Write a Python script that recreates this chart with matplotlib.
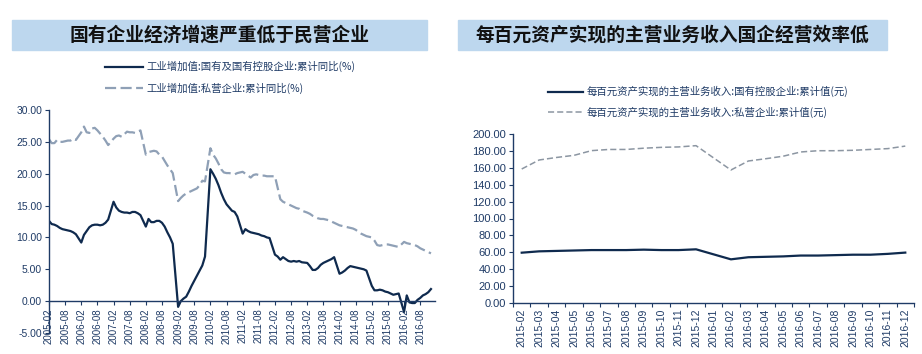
import matplotlib
matplotlib.use("Agg")
import matplotlib.pyplot as plt
from matplotlib.patches import Rectangle
import numpy as np

plt.rcParams['font.family'] = ['Noto Sans CJK SC', 'DejaVu Sans']

# ---- left chart: industrial value added, cumulative yoy (%), Feb-Dec each year
years_left = list(range(2005, 2017))
months_left = list(range(2, 13))
soe_growth = [
    12.6, 12.1, 12.0, 11.8, 11.5, 11.3, 11.2, 11.1, 11.0, 10.8, 10.5,   # 2005
    9.2, 10.4, 11.0, 11.6, 11.9, 12.0, 12.0, 11.9, 12.0, 12.3, 12.8,    # 2006
    15.6, 14.7, 14.2, 14.0, 13.9, 13.9, 13.8, 14.0, 14.0, 13.8, 13.5,   # 2007
    11.7, 12.9, 12.4, 12.4, 12.6, 12.6, 12.3, 11.7, 10.8, 10.0, 9.0,    # 2008
    -0.9, 0.0, 0.4, 0.7, 1.5, 2.4, 3.2, 4.0, 4.8, 5.6, 7.0,             # 2009
    20.7, 20.0, 19.2, 18.2, 17.0, 16.0, 15.2, 14.7, 14.2, 14.0, 13.3,   # 2010
    10.6, 11.3, 11.0, 10.8, 10.7, 10.6, 10.5, 10.3, 10.2, 10.0, 9.9,    # 2011
    7.3, 7.0, 6.5, 6.9, 6.6, 6.3, 6.2, 6.3, 6.2, 6.3, 6.1,              # 2012
    6.0, 5.5, 4.9, 4.9, 5.2, 5.7, 6.0, 6.2, 6.4, 6.6, 6.9,              # 2013
    4.3, 4.5, 4.8, 5.2, 5.5, 5.4, 5.3, 5.2, 5.1, 5.0, 4.8,              # 2014
    2.4, 1.7, 1.7, 1.8, 1.7, 1.5, 1.4, 1.2, 1.0, 1.1, 1.2,              # 2015
    -1.7, 0.9, -0.2, -0.3, -0.3, 0.2, 0.5, 0.9, 1.1, 1.4, 1.9,          # 2016
]
private_growth = [
    25.4, 24.8, 24.8, 25.3, 25.0, 25.0, 25.1, 25.2, 25.2, 25.5, 25.3,   # 2005
    26.5, 27.4, 26.5, 26.4, 27.1, 27.2, 26.8, 26.3, 25.8, 25.2, 24.5,   # 2006
    25.5, 25.9, 26.0, 25.8, 26.2, 26.6, 26.5, 26.5, 26.4, 26.6, 26.8,   # 2007
    23.0, 23.4, 23.5, 23.6, 23.5, 23.0, 22.7, 22.0, 21.3, 20.7, 20.1,   # 2008
    15.7, 16.2, 16.6, 16.9, 17.1, 17.3, 17.5, 17.7, 18.2, 18.9, 18.8,   # 2009
    24.0, 23.0, 22.4, 21.6, 20.7, 20.2, 20.1, 20.1, 20.0, 19.9, 20.1,   # 2010
    20.3, 20.0, 19.7, 19.4, 19.8, 19.9, 19.8, 19.7, 19.7, 19.6, 19.6,   # 2011
    19.6, 17.8, 16.0, 15.6, 15.4, 15.2, 15.0, 14.8, 14.6, 14.5, 14.2,   # 2012
    13.9, 13.7, 13.4, 13.2, 13.0, 12.9, 12.9, 12.8, 12.7, 12.5, 12.3,   # 2013
    11.9, 11.8, 11.7, 11.6, 11.5, 11.4, 11.2, 10.9, 10.6, 10.4, 10.2,   # 2014
    10.0, 9.5, 8.8, 8.7, 8.8, 8.9, 8.9, 8.8, 8.7, 8.6, 8.5,             # 2015
    9.3, 9.1, 9.0, 8.9, 8.8, 8.6, 8.3, 8.1, 7.9, 7.7, 7.5,              # 2016
]
left_ticks = [f"{y}-{m:02d}" for y in range(2005, 2017) for m in (2, 8)]
left_yticks = [-5, 0, 5, 10, 15, 20, 25, 30]

# ---- right chart: main business income per 100 yuan of assets (yuan)
right_cats = ['2015-02', '2015-03', '2015-04', '2015-05', '2015-06', '2015-07',
              '2015-08', '2015-09', '2015-10', '2015-11', '2015-12', '2016-01',
              '2016-02', '2016-03', '2016-04', '2016-05', '2016-06', '2016-07',
              '2016-08', '2016-09', '2016-10', '2016-11', '2016-12']
soe_income = [59.4, 61.0, 61.5, 62.0, 62.5, 62.5, 62.5, 63.0, 62.5, 62.5, 63.4, None,
              51.5, 54.0, 54.5, 55.0, 56.0, 56.0, 56.5, 57.0, 57.0, 58.0, 59.5]
private_income = [158.8, 169.5, 172.5, 175.0, 180.6, 182.0, 182.0, 183.5, 184.5, 185.0, 186.5, None,
                  157.6, 168.3, 171.0, 174.0, 179.0, 180.5, 180.5, 181.0, 182.0, 183.0, 186.0]
right_yticks = [0, 20, 40, 60, 80, 100, 120, 140, 160, 180, 200]

title_left = '国有企业经济增速严重低于民营企业'
title_right = '每百元资产实现的主营业务收入国企经营效率低'
legend_left = ['工业增加值:国有及国有控股企业:累计同比(%)', '工业增加值:私营企业:累计同比(%)']
legend_right = ['每百元资产实现的主营业务收入:国有控股企业:累计值(元)',
                '每百元资产实现的主营业务收入:私营企业:累计值(元)']

navy = '#0F2A4E'
axis_col = '#1F3B66'
gray_left = '#8FA0B6'
gray_right = '#8C96A2'
box_col = '#BDD7EE'
num_font = 'Liberation Sans'

W, H = 922, 354
fig = plt.figure(figsize=(W / 100, H / 100), dpi=100)


def fx(px):
    return px / W


def fy(py):
    return 1 - py / H


# title boxes
for x0, x1, txt in [(12, 427, title_left), (458, 887, title_right)]:
    fig.patches.append(Rectangle((fx(x0), fy(50)), fx(x1 - x0), fy(20) - fy(50),
                                 transform=fig.transFigure, color=box_col, zorder=0))
    fig.text(fx((x0 + x1) / 2), fy(35), txt, ha='center', va='center',
             fontsize=13.5, color='#111111', fontweight='bold')

# ---- left axes
axL = fig.add_axes([fx(49), fy(333), fx(435 - 49), fy(110) - fy(333)])
axL.spines['bottom'].set_position(('data', 0))
axL.spines['top'].set_visible(False)
axL.spines['right'].set_visible(False)
xs_left = [(y - 2005) * 12 + (m - 2) for y in years_left for m in months_left]
axL.plot(xs_left, private_growth, color=gray_left, lw=1.6, ls=(0, (5, 2)),
         label=legend_left[1])
axL.plot(xs_left, soe_growth, color=navy, lw=1.6, label=legend_left[0])
axL.set_xlim(0, 143.5)
axL.set_ylim(-5, 30)
axL.set_yticks(left_yticks)
axL.set_yticklabels([f"{v:.2f}" for v in left_yticks], fontsize=7.5,
                    fontfamily=num_font, color=axis_col)
tick_pos = [i * 6 for i in range(len(left_ticks))]
axL.set_xticks(tick_pos)
axL.set_xticklabels(left_ticks, rotation=90, fontsize=7, fontfamily=num_font,
                    color=axis_col)
for s in ('left', 'bottom'):
    axL.spines[s].set_color(axis_col)
    axL.spines[s].set_linewidth(1)
axL.tick_params(axis='both', colors=axis_col, length=3, width=0.8, pad=2)
handles, labels = axL.get_legend_handles_labels()
fig.legend(handles[::-1], labels[::-1], loc='upper left',
           bbox_to_anchor=(fx(100), fy(56)), frameon=False, borderpad=0,
           handlelength=3.6, handletextpad=0.35, labelspacing=0.95,
           prop={'size': 7.5}, labelcolor=axis_col)

# ---- right axes
axR = fig.add_axes([fx(513), fy(302.7), fx(914 - 513), fy(134.3) - fy(302.7)])
xr = np.arange(len(right_cats))
soe_pts = [(x, v) for x, v in zip(xr, soe_income) if v is not None]
pri_pts = [(x, v) for x, v in zip(xr, private_income) if v is not None]
axR.plot([p[0] for p in soe_pts], [p[1] for p in soe_pts], color=navy, lw=1.6,
         label=legend_right[0])
axR.plot([p[0] for p in pri_pts], [p[1] for p in pri_pts], color=gray_right,
         lw=1.1, ls=(0, (4, 2)), label=legend_right[1])
axR.set_xlim(-0.5, len(right_cats) - 0.5)
axR.set_ylim(0, 200)
axR.set_yticks(right_yticks)
axR.set_yticklabels([f"{v:.2f}" for v in right_yticks], fontsize=8,
                    fontfamily=num_font, color=axis_col)
axR.set_xticks(xr)
axR.set_xticklabels(right_cats, rotation=90, fontsize=7.5, fontfamily=num_font,
                    color=axis_col)
axR.set_xticks(np.arange(len(right_cats) + 1) - 0.5, minor=True)
axR.tick_params(axis='x', which='major', length=0, pad=4)
axR.tick_params(axis='x', which='minor', length=3, width=0.8, colors=axis_col)
axR.tick_params(axis='y', colors=axis_col, length=3, width=0.8, pad=2)
axR.spines['top'].set_visible(False)
axR.spines['right'].set_visible(False)
for s in ('left', 'bottom'):
    axR.spines[s].set_color(axis_col)
    axR.spines[s].set_linewidth(1)
fig.legend(*axR.get_legend_handles_labels(), loc='upper left',
           bbox_to_anchor=(fx(543), fy(81)), frameon=False, borderpad=0,
           handlelength=3.3, handletextpad=0.35, labelspacing=0.85,
           prop={'size': 7.5}, labelcolor=axis_col)

fig.savefig('out.png', dpi=100)
